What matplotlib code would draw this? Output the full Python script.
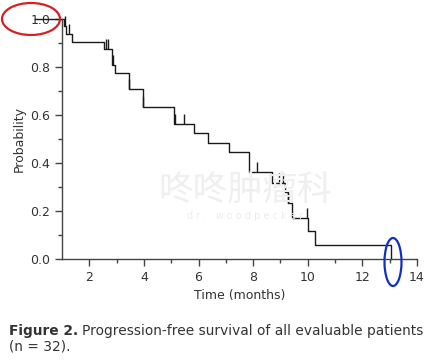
import numpy as np
import matplotlib.pyplot as plt
from matplotlib.patches import Ellipse

plt.rcParams['font.family'] = ['DejaVu Sans', 'Noto Sans CJK SC']

# Kaplan-Meier step curve (time in months, survival after the step)
step_times = [0.0, 1.07, 1.16, 1.35, 2.55, 2.82, 2.95, 3.45, 3.97, 5.1, 5.82, 6.36,
              7.1, 7.85, 8.7, 9.16, 9.27, 9.42, 10.0, 10.25, 13.05]
step_surv = [1.0, 0.969, 0.938, 0.906, 0.875, 0.81, 0.775, 0.708, 0.633, 0.5625, 0.525,
             0.483, 0.446, 0.363, 0.317, 0.28, 0.233, 0.171, 0.117, 0.058, 0.0]

# censored observations
cens_times = [1.12, 1.25, 2.6, 2.68, 2.88, 3.45, 3.98, 5.12, 5.45, 8.15, 8.95, 9.1, 9.27, 9.97]

x_ticks = [2, 4, 6, 8, 10, 12, 14]
y_ticks = [0.0, 0.2, 0.4, 0.6, 0.8, 1.0]

ink = '#333333'

fig = plt.figure(figsize=(4.35, 3.63), dpi=100)
ax = fig.add_axes([62/435, 104/363, 355/435, 240/363])

ax.step(step_times, step_surv, where='post', color='#1a1a1a', lw=1.0, clip_on=False)

# survival value at each censor time
cens_y = [step_surv[np.searchsorted(step_times, t, side='right') - 1] for t in cens_times]
ax.plot(cens_times, cens_y, ls='none', marker=2, ms=7, mew=1.0, color='#1a1a1a', clip_on=False)

ax.set_xlim(1, 14)
ax.set_ylim(0, 1.0)
ax.set_xticks(x_ticks)
ax.set_xticks(np.arange(3, 14, 2), minor=True)
ax.set_yticks(y_ticks)
ax.set_yticks([0.1, 0.3, 0.5, 0.7, 0.9], minor=True)
ax.set_yticklabels(['%.1f' % v for v in y_ticks])

for s in ['top', 'right']:
    ax.spines[s].set_visible(False)
for s in ['left', 'bottom']:
    ax.spines[s].set_color('#444444')
    ax.spines[s].set_linewidth(1.0)
ax.tick_params(which='major', length=5, width=1.0, color='#444444', labelsize=9, labelcolor=ink)
ax.tick_params(which='minor', length=3, width=1.0, color='#444444')

ax.set_xlabel('Time (months)', fontsize=9, color=ink, labelpad=4)
ax.set_ylabel('Probability', fontsize=9, color=ink, labelpad=3)

# faint watermark
fig.text(245/435, 1 - 190/363, '咚咚肿瘤科', fontsize=25, color='#efefef',
         family=['Noto Sans CJK SC'], ha='center', va='center', zorder=0)
fig.text(245/435, 1 - 216/363, 'd r .   w o o d p e c k e r', fontsize=7, color='#ececec',
         ha='center', va='center', zorder=0)

# caption: fit the first line to the width it takes in the reference (x 9 .. 426)
fig.canvas.draw()
r = fig.canvas.get_renderer()
fs = 10.5
t1 = fig.text(9/435, 1 - 335/363, 'Figure 2.', fontsize=fs, weight='bold', color=ink)
b1 = t1.get_window_extent(renderer=r)
t2 = fig.text((b1.x1 + 4)/435, 1 - 335/363, 'Progression-free survival of all evaluable patients',
              fontsize=fs, color=ink)
b2 = t2.get_window_extent(renderer=r)
fs = fs * (426 - 9) / (b2.x1 - 9)
t1.set_fontsize(fs)
t2.set_fontsize(fs)
b1 = t1.get_window_extent(renderer=r)
t2.set_x((b1.x1 + 4)/435)
fig.text(9/435, 1 - 351/363, '(n = 32).', fontsize=fs, color=ink)

# hand-drawn annotation marks
fig.patches.append(Ellipse((31/435, 1 - 19/363), 58/435, 32/363, fill=False,
                           ec='#d42020', lw=1.6, transform=fig.transFigure))
fig.patches.append(Ellipse((393/435, 1 - 262/363), 17/435, 48/363, angle=0, fill=False,
                           ec='#1030c0', lw=1.6, transform=fig.transFigure))

fig.savefig('out.png', dpi=100)
